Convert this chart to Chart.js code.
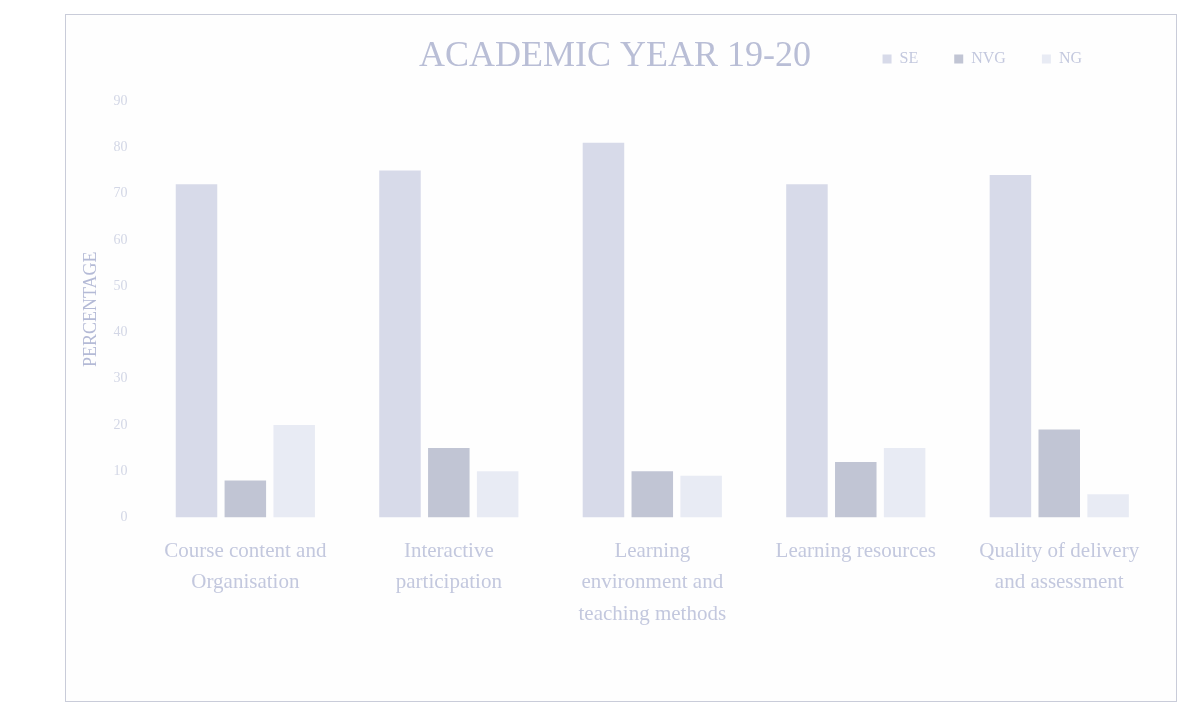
<!DOCTYPE html>
<html>
<head>
<meta charset="utf-8">
<script src="https://cdn.jsdelivr.net/npm/chart.js@4/dist/chart.umd.min.js"></script>
<style>
  body { margin: 0; background: #ffffff; }
  .frame {
    position: absolute;
    left: 65px;
    top: 14px;
    width: 1110px;
    height: 686px;
    border: 1px solid #c9ccd9;
    background: #fefefe;
  }
</style>
</head>
<body>
<div class="frame"><canvas id="chart" width="1110" height="686"></canvas></div>
<script>
const categories = [
  ["Course content and", "Organisation"],
  ["Interactive", "participation"],
  ["Learning", "environment and", "teaching methods"],
  "Learning resources",
  ["Quality of delivery", "and assessment"],
];
const seriesNames = ["SE", "NVG", "NG"];
const seValues = [72, 75, 81, 72, 74];
const nvgValues = [8, 15, 10, 12, 19];
const ngValues = [20, 10, 9, 15, 5];
const yTicks = [0, 10, 20, 30, 40, 50, 60, 70, 80, 90];

const textColor = "#c3c8de";
const serif = "'Liberation Serif', 'DejaVu Serif', serif";

// title sits on the same line as the legend, so it is drawn here
const titleOnLegendLine = {
  id: "titleOnLegendLine",
  beforeLayout(chart) {
    const legend = chart.legend;
    if (legend && !legend._tallFit) {
      const fit = legend.fit;
      legend.fit = function () {
        fit.call(this);
        this.height = 86;
      };
      legend._tallFit = true;
    }
  },
  afterLayout(chart) {
    // legend ends right of the title, not at the frame edge
    chart.legend.right = 1052;
  },
  afterDraw(chart) {
    const ctx = chart.ctx;
    ctx.save();
    ctx.font = "36px " + serif;
    ctx.fillStyle = "#b9bed6";
    ctx.textAlign = "center";
    ctx.textBaseline = "middle";
    ctx.fillText("ACADEMIC YEAR 19-20", 549, 42);
    ctx.restore();
  },
};

const ctx = document.getElementById("chart").getContext("2d");

const chart = new Chart(ctx, {
  type: "bar",
  data: {
    labels: categories,
    datasets: [
      { label: seriesNames[0], data: seValues, backgroundColor: "#d7dae9" },
      { label: seriesNames[1], data: nvgValues, backgroundColor: "#c1c5d4" },
      { label: seriesNames[2], data: ngValues, backgroundColor: "#e8ebf4" },
    ],
  },
  options: {
    responsive: false,
    animation: false,
    categoryPercentage: 0.72,
    barPercentage: 0.85,
    layout: {
      padding: { left: 10, right: 15, top: 0, bottom: 61 },
    },
    scales: {
      y: {
        min: 0,
        max: 90,
        afterBuildTicks: (axis) => {
          axis.ticks = yTicks.map((v) => ({ value: v }));
        },
        grid: { display: false },
        border: { display: false },
        ticks: {
          color: "#d3d7e6",
          font: { family: serif, size: 14 },
          padding: 8,
        },
        title: {
          display: true,
          text: "PERCENTAGE",
          color: "#b4bad6",
          font: { family: serif, size: 18 },
          padding: 4,
        },
      },
      x: {
        grid: { display: false },
        border: { display: false },
        ticks: {
          color: textColor,
          font: { family: serif, size: 21, lineHeight: 1.5 },
          maxRotation: 0,
          autoSkip: false,
          padding: 10,
        },
      },
    },
    plugins: {
      title: { display: false },
      tooltip: { enabled: false },
      legend: {
        position: "top",
        align: "end",
        labels: {
          color: textColor,
          boxWidth: 9,
          boxHeight: 9,
          padding: 36,
          font: { family: serif, size: 16 },
        },
      },
    },
  },
  plugins: [titleOnLegendLine],
});
</script>
</body>
</html>
